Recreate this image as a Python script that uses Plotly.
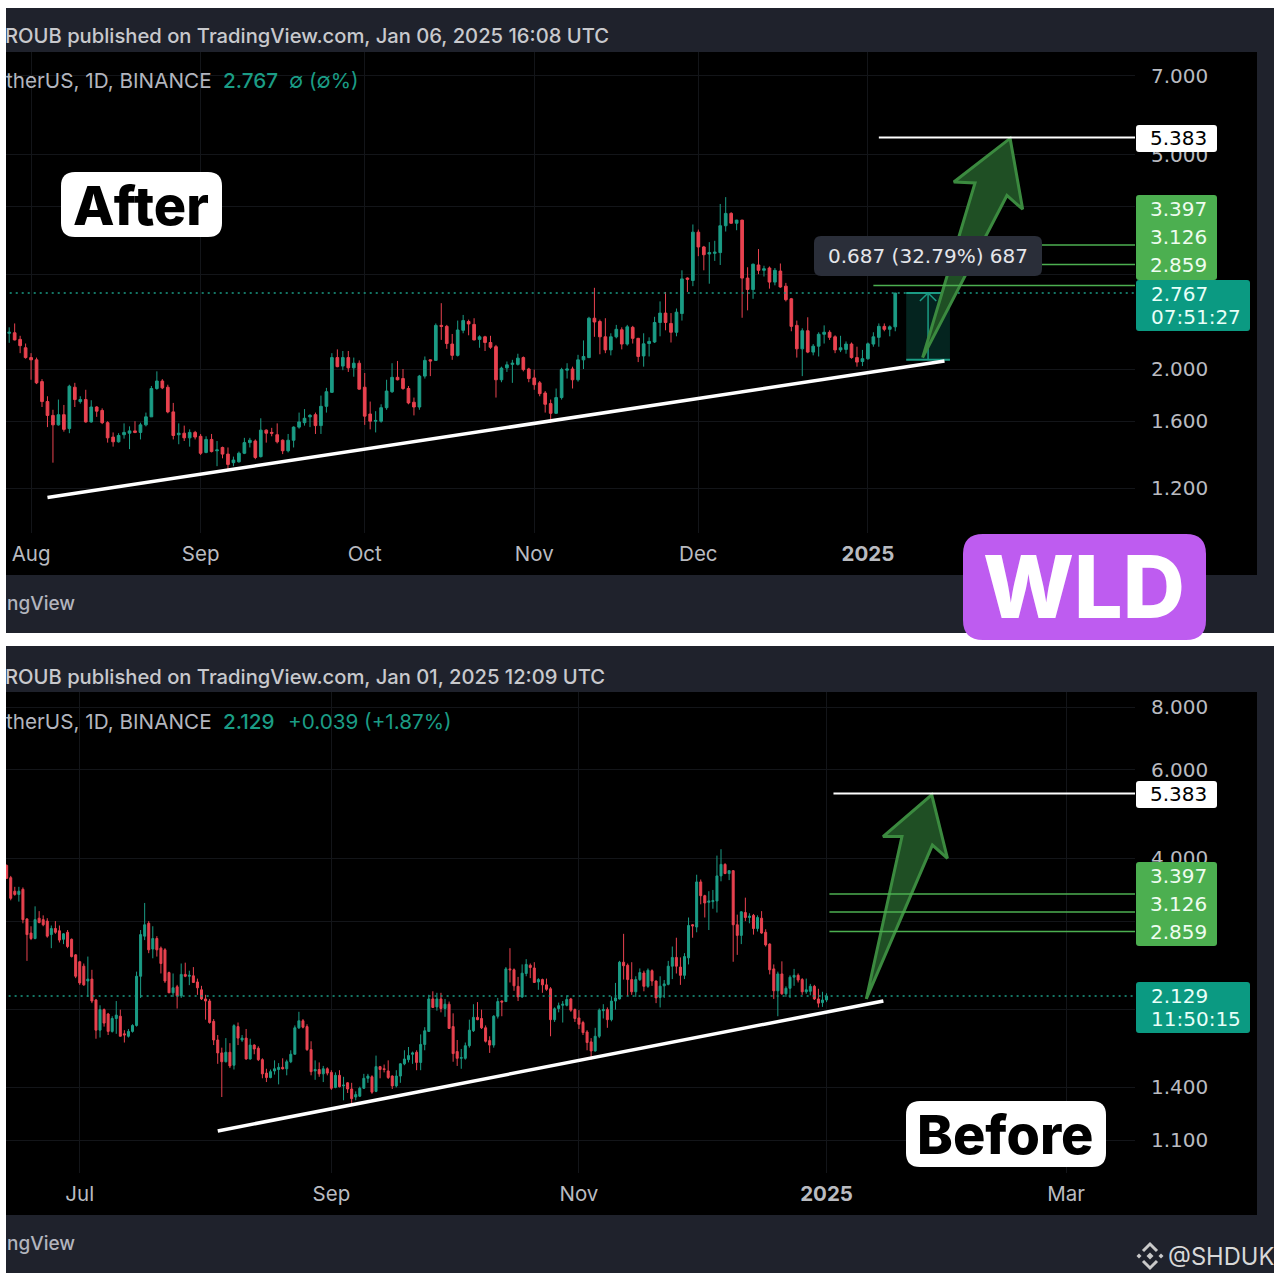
import math

import pandas as pd
import plotly.graph_objects as go

FIRST_DAY = "2024-06-13"

# daily candles Jun 13 2024 .. Jan 6 2025, one line per month
opens = [
  3.87, 3.66, 3.44, 3.39, 3.47, 3.03, 2.84, 2.77, 3.04, 3.02, 3.00, 2.82, 2.90, 2.87, 2.76, 2.85, 2.76, 2.57,
  2.49, 2.44, 2.28, 2.30, 2.09, 1.82, 2.00, 1.96, 1.81, 1.92, 1.94, 1.79, 1.77, 1.81, 1.86, 2.33, 2.80, 2.97, 2.64, 2.77, 2.65, 2.63, 2.37, 2.16, 2.22, 2.13, 2.35, 2.33, 2.335, 2.27, 2.19,
  2.10, 2.08, 1.895, 1.74, 1.64, 1.575, 1.645, 1.55, 1.85, 1.74, 1.755, 1.595, 1.70, 1.675, 1.59, 1.495, 1.465, 1.51, 1.52, 1.535, 1.525, 1.575, 1.63, 1.84, 1.90, 1.85, 1.665, 1.51, 1.52, 1.49, 1.525,
  1.50, 1.40, 1.48, 1.41, 1.43, 1.39, 1.34, 1.345, 1.395, 1.46, 1.47, 1.375, 1.54, 1.525, 1.51, 1.475, 1.41, 1.475, 1.56, 1.59, 1.63, 1.645, 1.57, 1.705, 1.81, 2.10, 2.025, 2.10, 2.01, 2.05,
  1.85, 1.65, 1.60, 1.60, 1.695, 1.815, 1.93, 1.92, 1.84, 1.735, 1.70, 1.94, 2.08, 2.075, 2.41, 2.40, 2.225, 2.12, 2.36, 2.45, 2.42, 2.27, 2.295, 2.24, 2.20, 1.91, 2.01, 2.04, 2.04, 2.10, 2.00,
  1.925, 1.885, 1.805, 1.725, 1.655, 1.77, 1.99, 2.00, 1.91, 2.08, 2.10, 2.485, 2.45, 2.295, 2.17, 2.295, 2.365, 2.225, 2.39, 2.28, 2.115, 2.23, 2.245, 2.44, 2.54, 2.43, 2.34, 2.535, 2.95, 2.92,
  3.59, 3.37, 3.27, 3.28, 3.29, 3.69, 3.89, 3.73, 3.78, 2.95, 2.81, 3.12, 3.05, 3.08, 2.90, 3.04, 2.85, 2.70, 2.41, 2.18, 2.355, 2.15, 2.205, 2.32, 2.34, 2.295, 2.17, 2.175, 2.225, 2.10, 2.065,
  2.09, 2.225, 2.29, 2.40, 2.37, 2.395,
]
highs = [
  3.89, 3.69, 3.51, 3.51, 3.50, 3.04, 2.93, 3.21, 3.14, 3.08, 3.04, 2.94, 3.00, 2.94, 2.84, 2.88, 2.77, 2.58,
  2.50, 2.47, 2.55, 2.40, 2.10, 2.04, 2.01, 1.97, 1.94, 2.08, 2.00, 1.82, 1.83, 1.87, 2.38, 2.88, 3.26, 3.00, 2.93, 2.80, 2.67, 2.65, 2.38, 2.36, 2.24, 2.47, 2.48, 2.39, 2.43, 2.305, 2.23,
  2.14, 2.10, 1.915, 1.78, 1.68, 1.755, 1.715, 1.87, 1.885, 1.78, 1.83, 1.75, 1.706, 1.69, 1.60, 1.525, 1.52, 1.585, 1.565, 1.60, 1.59, 1.66, 1.86, 1.98, 1.915, 1.87, 1.73, 1.585, 1.57, 1.545, 1.535,
  1.515, 1.50, 1.515, 1.47, 1.435, 1.43, 1.375, 1.405, 1.49, 1.49, 1.48, 1.62, 1.545, 1.555, 1.585, 1.48, 1.515, 1.565, 1.66, 1.685, 1.65, 1.66, 1.785, 1.845, 2.14, 2.175, 2.16, 2.16, 2.10, 2.075,
  1.966, 1.74, 1.67, 1.72, 1.91, 2.05, 2.07, 2.00, 1.86, 1.77, 1.95, 2.11, 2.085, 2.43, 2.65, 2.415, 2.323, 2.46, 2.52, 2.47, 2.485, 2.31, 2.305, 2.305, 2.217, 2.02, 2.065, 2.08, 2.135, 2.11, 2.01,
  1.995, 1.90, 1.82, 1.755, 1.84, 2.01, 2.05, 2.02, 2.125, 2.26, 2.50, 2.83, 2.47, 2.485, 2.33, 2.415, 2.39, 2.415, 2.405, 2.285, 2.33, 2.29, 2.50, 2.67, 2.78, 2.54, 2.59, 3.05, 2.96, 3.71,
  3.63, 3.385, 3.44, 3.46, 4.05, 4.17, 3.91, 3.785, 3.785, 3.09, 3.14, 3.34, 3.11, 3.10, 3.08, 3.14, 2.89, 2.71, 2.46, 2.38, 2.495, 2.225, 2.34, 2.41, 2.36, 2.31, 2.305, 2.25, 2.24, 2.20, 2.17,
  2.24, 2.34, 2.43, 2.43, 2.41, 2.77,
]
lows = [
  3.64, 3.30, 3.37, 3.28, 2.97, 2.50, 2.75, 2.76, 2.97, 2.93, 2.78, 2.65, 2.83, 2.72, 2.70, 2.65, 2.54, 2.31,
  2.24, 2.23, 2.12, 2.06, 1.75, 1.76, 1.85, 1.78, 1.80, 1.79, 1.77, 1.72, 1.76, 1.80, 1.85, 2.11, 2.75, 2.59, 2.53, 2.55, 2.36, 2.26, 2.16, 2.12, 2.01, 2.11, 2.32, 2.237, 2.26, 2.14, 2.09,
  1.91, 1.875, 1.70, 1.56, 1.34, 1.57, 1.53, 1.52, 1.70, 1.725, 1.59, 1.59, 1.63, 1.58, 1.46, 1.435, 1.46, 1.485, 1.42, 1.52, 1.48, 1.565, 1.63, 1.83, 1.835, 1.655, 1.48, 1.45, 1.47, 1.435, 1.48,
  1.385, 1.395, 1.40, 1.32, 1.365, 1.295, 1.32, 1.34, 1.39, 1.43, 1.36, 1.37, 1.46, 1.50, 1.455, 1.39, 1.40, 1.43, 1.55, 1.57, 1.56, 1.515, 1.515, 1.66, 1.805, 2.015, 1.99, 1.975, 1.935, 1.83,
  1.575, 1.545, 1.525, 1.59, 1.68, 1.805, 1.905, 1.83, 1.72, 1.64, 1.68, 1.92, 1.94, 2.07, 2.265, 2.18, 2.08, 2.11, 2.33, 2.31, 2.26, 2.19, 2.16, 2.18, 1.77, 1.89, 1.975, 1.885, 2.03, 1.98, 1.89,
  1.83, 1.78, 1.66, 1.59, 1.65, 1.755, 1.92, 1.84, 1.895, 2.00, 2.095, 2.295, 2.13, 2.14, 2.12, 2.28, 2.175, 2.21, 2.23, 2.06, 2.02, 2.11, 2.235, 2.30, 2.36, 2.24, 2.30, 2.46, 2.78, 2.85,
  3.24, 3.05, 2.88, 3.175, 3.12, 3.60, 3.72, 3.62, 2.49, 2.57, 2.70, 3.00, 2.97, 2.82, 2.86, 2.83, 2.67, 2.35, 2.10, 1.94, 2.14, 2.12, 2.11, 2.23, 2.265, 2.14, 2.15, 2.135, 2.09, 2.02, 2.025,
  2.08, 2.20, 2.20, 2.35, 2.30, 2.35,
]
closes = [
  3.65, 3.33, 3.39, 3.44, 3.02, 2.82, 2.77, 3.02, 2.98, 2.95, 2.80, 2.90, 2.85, 2.75, 2.83, 2.67, 2.55, 2.33,
  2.26, 2.24, 2.30, 2.08, 1.82, 2.00, 1.88, 1.81, 1.92, 1.95, 1.77, 1.78, 1.81, 1.86, 2.33, 2.82, 2.95, 2.63, 2.77, 2.63, 2.47, 2.28, 2.16, 2.21, 2.13, 2.35, 2.33, 2.34, 2.265, 2.21, 2.10,
  2.08, 1.885, 1.74, 1.64, 1.575, 1.645, 1.545, 1.858, 1.755, 1.755, 1.595, 1.70, 1.67, 1.59, 1.49, 1.465, 1.505, 1.525, 1.535, 1.525, 1.575, 1.63, 1.84, 1.90, 1.845, 1.665, 1.505, 1.52, 1.49, 1.525, 1.495,
  1.395, 1.48, 1.405, 1.415, 1.39, 1.33, 1.355, 1.395, 1.46, 1.475, 1.37, 1.54, 1.52, 1.52, 1.465, 1.41, 1.475, 1.56, 1.595, 1.62, 1.64, 1.57, 1.705, 1.815, 2.10, 2.02, 2.10, 2.01, 2.05, 1.835,
  1.635, 1.60, 1.605, 1.695, 1.82, 1.93, 1.91, 1.84, 1.73, 1.70, 1.94, 2.075, 2.07, 2.41, 2.40, 2.23, 2.12, 2.363, 2.46, 2.425, 2.265, 2.295, 2.24, 2.195, 1.91, 2.007, 2.036, 2.05, 2.095, 1.995, 1.92,
  1.87, 1.80, 1.72, 1.655, 1.77, 1.995, 2.00, 1.91, 2.08, 2.11, 2.485, 2.445, 2.295, 2.17, 2.295, 2.37, 2.225, 2.395, 2.28, 2.11, 2.227, 2.25, 2.44, 2.54, 2.44, 2.34, 2.55, 2.94, 2.935, 3.59,
  3.37, 3.26, 3.29, 3.295, 3.69, 3.89, 3.73, 3.78, 2.95, 2.81, 3.13, 3.05, 3.07, 2.90, 3.05, 2.84, 2.69, 2.40, 2.18, 2.355, 2.15, 2.205, 2.32, 2.34, 2.29, 2.17, 2.19, 2.225, 2.10, 2.06, 2.09,
  2.227, 2.295, 2.40, 2.37, 2.395, 2.767,
]

# the "Before" shot was taken mid-day on Jan 1, so its last candle is still open
before_last = dict(open=2.09, high=2.155, low=2.07, close=2.129)
BEFORE_BARS = 202
AFTER_START = 45

targets = [3.397, 3.126, 2.859]
goal = 5.383

trend_dates = ["2024-08-04", "2025-01-15"]
trend_after = [1.155, 2.07]
trend_before = [1.147, 2.08]

# order: foot, inner left, left barb, tip, right barb, inner right, foot
arrow_after_dates = ["2025-01-11", "2025-01-20 14:00", "2025-01-16 17:00", "2025-01-27", "2025-01-29 07:00", "2025-01-26 10:00", "2025-01-11"]
arrow_after_prices = [2.10, 4.43, 4.45, 5.36, 3.96, 4.20, 2.10]
arrow_before_dates = ["2025-01-10 19:00", "2025-01-19 14:00", "2025-01-14 22:00", "2025-01-26 22:00", "2025-01-30 19:00", "2025-01-27 02:00", "2025-01-10 19:00"]
arrow_before_prices = [2.10, 4.42, 4.42, 5.35, 4.00, 4.25, 2.10]

measure_dates = ["2025-01-08", "2025-01-16"]
measure_mid = "2025-01-12"
measure_prices = [2.08, 2.767]

# ticks whose labels sit hidden behind the price tags get a blank label
after_ticks = [7, 5, 4, 3, 2, 1.6, 1.2]
after_tick_labels = ["7.000", "5.000", "", "", "2.000", "1.600", "1.200"]
before_ticks = [8, 6, 4, 3, 2, 1.4, 1.1]
before_tick_labels = ["8.000", "6.000", "4.000", "", "", "1.400", "1.100"]
after_months = ["2024-08-01", "2024-09-01", "2024-10-01", "2024-11-01", "2024-12-01", "2025-01-01"]
after_month_labels = ["Aug", "Sep", "Oct", "Nov", "Dec", "<b>2025</b>"]
before_months = ["2024-07-01", "2024-09-01", "2024-11-01", "2025-01-01", "2025-03-01"]
before_month_labels = ["Jul", "Sep", "Nov", "<b>2025</b>", "Mar"]

GREEN = "#1b9c85"
RED = "#e8424f"
TARGET = "#4caf50"
GRID = "#131519"
FONT = "Inter"
PRICE_FONT = "DejaVu Sans"
TICK = "#b9bbc0"

dates = pd.date_range(FIRST_DAY, periods=len(closes), freq="D")


def px(x):
  return x / 1280


def py(y):
  return 1 - y / 1280


def round_box(x0, y0, x1, y1, r, color, layer="above"):
  path = (
    f"M {px(x0 + r)} {py(y0)} L {px(x1 - r)} {py(y0)} Q {px(x1)} {py(y0)} {px(x1)} {py(y0 + r)} "
    f"L {px(x1)} {py(y1 - r)} Q {px(x1)} {py(y1)} {px(x1 - r)} {py(y1)} "
    f"L {px(x0 + r)} {py(y1)} Q {px(x0)} {py(y1)} {px(x0)} {py(y1 - r)} "
    f"L {px(x0)} {py(y0 + r)} Q {px(x0)} {py(y0)} {px(x0 + r)} {py(y0)} Z"
  )
  return dict(type="path", xref="paper", yref="paper", path=path, fillcolor=color, line_width=0, layer=layer)


def rect(x0, y0, x1, y1, color):
  return dict(type="rect", xref="paper", yref="paper", x0=px(x0), x1=px(x1), y0=py(y0), y1=py(y1),
              fillcolor=color, line_width=0, layer="below")


def text(x, y, label, size=20, color="#c8c9cd", anchor="left", weight=400, family=FONT):
  return dict(xref="paper", yref="paper", x=px(x), y=py(y), text=label, showarrow=False,
              xanchor=anchor, yanchor="middle", borderpad=0,
              font=dict(family=family, size=size, color=color, weight=weight))


def price(x, y, label, color, anchor="center"):
  return text(x, y, label, 20, color, anchor, 400, PRICE_FONT)


def candles(d, o, h, l, c, xa, ya):
  return go.Candlestick(
    x=d, open=o, high=h, low=l, close=c, xaxis=xa, yaxis=ya, showlegend=False,
    whiskerwidth=0,
    increasing=dict(line=dict(color=GREEN, width=1), fillcolor=GREEN),
    decreasing=dict(line=dict(color=RED, width=1), fillcolor=RED),
  )


def line(x, y, xa, ya, color, width, dash="solid"):
  return go.Scatter(x=x, y=y, xaxis=xa, yaxis=ya, mode="lines", showlegend=False, hoverinfo="skip",
                    line=dict(color=color, width=width, dash=dash))


def arrow(x, y, xa, ya):
  return go.Scatter(x=x, y=y, xaxis=xa, yaxis=ya, mode="lines", fill="toself", fillcolor="#1f4f24",
                    showlegend=False, hoverinfo="skip", line=dict(color="#3b8a3f", width=3))


after_end = "2025-02-18 20:00"
before_end = "2025-03-18"
DOTS = "2px,4px"

data = [
  # after
  line(["2024-07-27", after_end], [closes[-1]] * 2, "x", "y", GREEN, 1.5, DOTS),
  candles(dates[AFTER_START:], opens[AFTER_START:], highs[AFTER_START:], lows[AFTER_START:], closes[AFTER_START:], "x", "y"),
  go.Scatter(x=[measure_dates[0], measure_dates[1], measure_dates[1], measure_dates[0], measure_dates[0]],
             y=[measure_prices[0], measure_prices[0], measure_prices[1], measure_prices[1], measure_prices[0]],
             xaxis="x", yaxis="y", mode="none", fill="toself", fillcolor="#04241f", showlegend=False, hoverinfo="skip"),
  line(measure_dates, [measure_prices[0]] * 2, "x", "y", GREEN, 2),
  line(measure_dates, [measure_prices[1]] * 2, "x", "y", GREEN, 2),
  line([measure_mid] * 2, measure_prices, "x", "y", GREEN, 1.5),
  line(["2025-01-10 12:00", measure_mid, "2025-01-13 12:00"], [2.675, measure_prices[1], 2.675], "x", "y", GREEN, 1.5),
  arrow(arrow_after_dates, arrow_after_prices, "x", "y"),
  line(trend_dates, trend_after, "x", "y", "white", 3.5),
  line(["2025-01-03", after_end], [goal] * 2, "x", "y", "white", 2),
]
for t in targets:
  data.append(line(["2025-01-02", after_end], [t] * 2, "x", "y", TARGET, 1.5))

data += [
  # before
  line(["2024-06-12", before_end], [before_last["close"]] * 2, "x2", "y2", GREEN, 1.5, DOTS),
  candles(dates[:BEFORE_BARS + 1],
          opens[:BEFORE_BARS] + [before_last["open"]],
          highs[:BEFORE_BARS] + [before_last["high"]],
          lows[:BEFORE_BARS] + [before_last["low"]],
          closes[:BEFORE_BARS] + [before_last["close"]], "x2", "y2"),
  arrow(arrow_before_dates, arrow_before_prices, "x2", "y2"),
  line(trend_dates, trend_before, "x2", "y2", "white", 3.5),
  line(["2025-01-02 17:00", before_end], [goal] * 2, "x2", "y2", "white", 2),
]
for t in targets:
  data.append(line(["2025-01-01 17:00", before_end], [t] * 2, "x2", "y2", TARGET, 1.5))

shapes = [
  rect(6, 8, 1274, 633, "#1f222c"),
  rect(6, 646, 1274, 1273, "#1f222c"),
  rect(6, 52, 1257, 575, "#000000"),
  rect(6, 692, 1257, 1215, "#000000"),
  # after tags
  round_box(814, 236, 1042, 276, 7, "#2a2e39"),
  round_box(1136, 125, 1217, 152, 3, "#ffffff"),
  round_box(1136, 195, 1217, 280, 3, TARGET),
  round_box(1136, 280, 1250, 331, 3, "#0b9a82"),
  round_box(61, 172, 222, 237, 14, "#ffffff"),
  # before tags
  round_box(1136, 781, 1217, 808, 3, "#ffffff"),
  round_box(1136, 862, 1217, 946, 3, TARGET),
  round_box(1136, 982, 1250, 1033, 3, "#0b9a82"),
  round_box(906, 1101, 1106, 1167, 14, "#ffffff"),
  round_box(963, 534, 1206, 640, 20, "#be5cf0"),
]

# watermark logo
LOGO = "#c9c9c9"
logo_x, logo_y = 1150, 1256
for dx, dy, r in [(0, 0, 3.5), (-11, 0, 2.5), (11, 0, 2.5)]:
  shapes.append(dict(
    type="path", xref="paper", yref="paper", layer="above", fillcolor=LOGO, line_width=0,
    path=f"M {px(logo_x + dx - r)} {py(logo_y + dy)} L {px(logo_x + dx)} {py(logo_y + dy - r)} "
         f"L {px(logo_x + dx + r)} {py(logo_y + dy)} L {px(logo_x + dx)} {py(logo_y + dy + r)} Z"))
for s in (-1, 1):
  shapes.append(dict(
    type="path", xref="paper", yref="paper", layer="above", line=dict(color=LOGO, width=3),
    path=f"M {px(logo_x - 7)} {py(logo_y + s * 5)} L {px(logo_x)} {py(logo_y + s * 12)} L {px(logo_x + 7)} {py(logo_y + s * 5)}"))

TAG_TEXT = "#eefcef"
TEAL_TEXT = "#e8fff8"
annotations = [
  text(4, 36, "ROUB published on TradingView.com, Jan 06, 2025 16:08 UTC", 20.2, weight=500),
  text(5, 81, "therUS, 1D, BINANCE", 20.7, "#b2b5be"),
  text(222, 81, "2.767", 20.7, GREEN, weight=500),
  text(288, 81, "∅ (∅%)", 20.7, GREEN),
  text(6, 603, "ngView", 19, "#b2b5be", weight=500),
  text(141, 205, "After", 54, "#000000", "center", 800),
  price(1178.5, 138, "5.383", "#000000"),
  price(1178.5, 209, "3.397", TAG_TEXT),
  price(1178.5, 237, "3.126", TAG_TEXT),
  price(1178.5, 265, "2.859", TAG_TEXT),
  price(1150, 294, "2.767", TEAL_TEXT, "left"),
  price(1150, 317, "07:51:27", TEAL_TEXT, "left"),
  text(927.5, 256, "0.687 (32.79%) 687", 20, "#e4e5e9", "center", 400, PRICE_FONT),
  text(1084, 587, "WLD", 86, "#ffffff", "center", 800),

  text(4, 676, "ROUB published on TradingView.com, Jan 01, 2025 12:09 UTC", 20.2, weight=500),
  text(5, 721, "therUS, 1D, BINANCE", 20.7, "#b2b5be"),
  text(222, 721, "2.129", 20.7, GREEN, weight=500),
  text(287, 721, "+0.039 (+1.87%)", 20.7, GREEN),
  text(6, 1243, "ngView", 19, "#b2b5be", weight=500),
  price(1178.5, 794, "5.383", "#000000"),
  price(1178.5, 876, "3.397", TAG_TEXT),
  price(1178.5, 904, "3.126", TAG_TEXT),
  price(1178.5, 932, "2.859", TAG_TEXT),
  price(1150, 996, "2.129", TEAL_TEXT, "left"),
  price(1150, 1019, "11:50:15", TEAL_TEXT, "left"),
  text(1005, 1134, "Before", 54, "#000000", "center", 800),
  text(1167, 1256, "@SHDUK", 23.7, "#d8d8d8"),
]


def x_axis(first, last, vals, labels, anchor):
  return dict(
    type="date", range=[first, last], domain=[px(6), px(1135)], anchor=anchor,
    tickmode="array", tickvals=vals, ticktext=labels, ticks="", ticklabelstandoff=6,
    tickfont=dict(family=FONT, size=20.5, color=TICK),
    showgrid=True, gridcolor=GRID, gridwidth=1, showline=False, zeroline=False,
    rangeslider=dict(visible=False),
  )


def y_axis(low, high, vals, labels, anchor, top, bottom):
  return dict(
    type="log", range=[math.log10(low), math.log10(high)],
    domain=[py(bottom), py(top)], anchor=anchor, side="right",
    tickmode="array", tickvals=vals, ticktext=labels, ticks="", ticklabelstandoff=15,
    tickfont=dict(family=PRICE_FONT, size=20, color=TICK),
    showgrid=True, gridcolor=GRID, gridwidth=1, showline=False, zeroline=False,
  )


layout = go.Layout(
  width=1280,
  height=1280,
  margin=dict(l=0, r=0, t=0, b=0),
  paper_bgcolor="#ffffff",
  plot_bgcolor="rgba(0,0,0,0)",
  boxgap=0.3,
  showlegend=False,
  xaxis=x_axis("2024-07-27 10:00", after_end, after_months, after_month_labels, "y"),
  yaxis=y_axis(0.992, 7.756, after_ticks, after_tick_labels, "x", 52, 533),
  xaxis2=x_axis("2024-06-12 20:00", before_end, before_months, before_month_labels, "y2"),
  yaxis2=y_axis(0.946, 8.57, before_ticks, before_tick_labels, "x2", 692, 1173),
  shapes=shapes,
  annotations=annotations,
)

fig = go.Figure(data=data, layout=layout)
fig.write_html("out.html", config={"displayModeBar": False},
               post_script="document.body.style.margin='0';document.body.style.overflow='hidden';")
